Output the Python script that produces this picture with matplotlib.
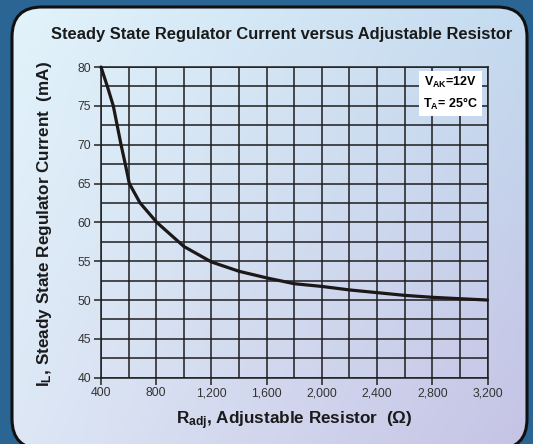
import numpy as np
import matplotlib
matplotlib.use("Agg")
import matplotlib.pyplot as plt
from matplotlib.patches import FancyBboxPatch
from matplotlib.ticker import MultipleLocator, FuncFormatter
from matplotlib.colors import to_rgb

# curve
r_adj = [400, 446, 489, 545, 576, 605, 683, 804, 1000, 1200, 1400, 1600,
         1800, 2000, 2200, 2400, 2600, 2800, 3000, 3200]
i_l = [80, 77.5, 75, 70, 67.5, 65, 62.5, 60, 56.9, 54.9, 53.7, 52.85,
       52.1, 51.75, 51.3, 50.95, 50.6, 50.35, 50.17, 50.0]

x_ticks = [400, 800, 1200, 1600, 2000, 2400, 2800, 3200]
y_ticks = [40, 45, 50, 55, 60, 65, 70, 75, 80]

plt.rcParams["font.family"] = ["Liberation Sans", "DejaVu Sans"]
plt.rcParams["mathtext.fontset"] = "custom"
plt.rcParams["mathtext.rm"] = "Liberation Sans:bold"
plt.rcParams["mathtext.it"] = "Liberation Sans:bold"
plt.rcParams["mathtext.bf"] = "Liberation Sans:bold"
plt.rcParams["mathtext.default"] = "rm"

W, H = 533, 444
fig = plt.figure(figsize=(W / 100, H / 100), dpi=100)
fig.patch.set_facecolor("#2b6593")

# background panel (pixel coords, y up)
bg = fig.add_axes([0, 0, 1, 1])
bg.set_xlim(0, W)
bg.set_ylim(0, H)
bg.axis("off")

px0, pw = 12, 515
ptop, pbot = 7, 449  # measured from the top
tl, tr = np.array(to_rgb("#e2f3fb")), np.array(to_rgb("#c4dbef"))
bl, br = np.array(to_rgb("#dde7f5")), np.array(to_rgb("#c6c3e5"))
u = np.linspace(0, 1, 200)[None, :, None]
v = np.linspace(0, 1, 200)[:, None, None]
grad = (1 - v) * ((1 - u) * tl + u * tr) + v * ((1 - u) * bl + u * br)
im = bg.imshow(grad, extent=(px0, px0 + pw, H - pbot, H - ptop), aspect="auto",
               origin="upper", interpolation="bicubic", zorder=0)
panel = FancyBboxPatch((px0, H - pbot), pw, pbot - ptop,
                       boxstyle="round,pad=0,rounding_size=30",
                       facecolor="none", edgecolor="#111111", lw=2.2, zorder=2)
bg.add_patch(panel)
im.set_clip_path(panel)

# main plot
ax = fig.add_axes([101 / W, 1 - 377.7 / H, 386.5 / W, 310.7 / H])
ax.patch.set_alpha(0)
ax.plot(r_adj, i_l, color="#1c1818", lw=2.3, solid_joinstyle="round",
        solid_capstyle="round", zorder=3, clip_on=False)

ax.set_xlim(400, 3200)
ax.set_ylim(40, 80)
ax.set_xticks(x_ticks)
ax.set_yticks(y_ticks)
ax.xaxis.set_minor_locator(MultipleLocator(200))
ax.yaxis.set_minor_locator(MultipleLocator(2.5))
ax.xaxis.set_major_formatter(FuncFormatter(lambda v, p: f"{int(v):,}"))
ax.grid(True, which="both", color="#1e1e1e", lw=1.1)
ax.set_axisbelow(True)
ax.tick_params(which="major", direction="out", length=5, width=1.1,
               color="#222222", labelsize=8.8, labelcolor="#333333", pad=2)
ax.tick_params(which="minor", length=0)
for s in ax.spines.values():
    s.set_color("#1e1e1e")
    s.set_linewidth(1.1)

ax.text(0.905, 0.915, "V$_{AK}$=12V\nT$_A$= 25°C", transform=ax.transAxes,
        ha="center", va="center", fontsize=9, fontweight="bold", linespacing=1.5,
        zorder=5, bbox=dict(facecolor="white", edgecolor="none", pad=3))

fig.text(282 / W, 1 - 34 / H, "Steady State Regulator Current versus Adjustable Resistor",
         ha="center", va="center", fontsize=11.9, fontweight="bold", color="#1a1a1a")
fig.text(294 / W, 1 - 421 / H, "R$_{adj}$, Adjustable Resistor  (Ω)",
         ha="center", va="center", fontsize=12.3, fontweight="bold", color="#1a1a1a")
fig.text(45 / W, 1 - 224 / H, "I$_L$, Steady State Regulator Current  (mA)",
         ha="center", va="center", rotation=90, fontsize=12.3, fontweight="bold",
         color="#1a1a1a")

fig.savefig("out.png", dpi=100, facecolor=fig.get_facecolor())
